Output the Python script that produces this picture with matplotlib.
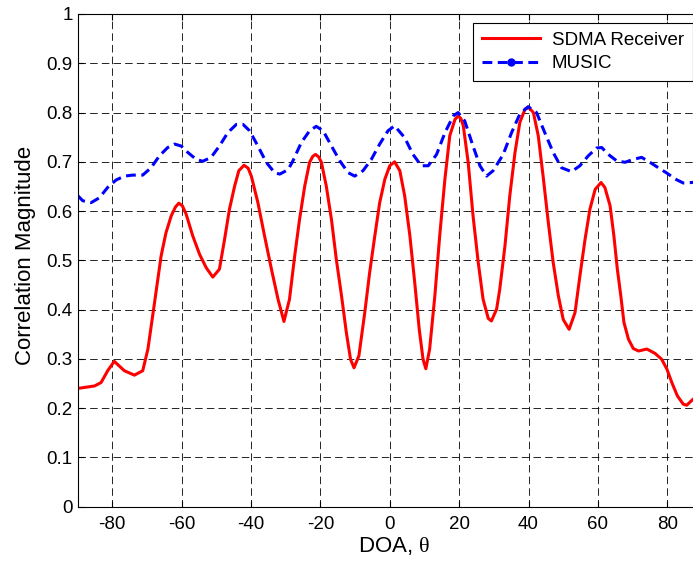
import matplotlib
matplotlib.use("Agg")
import matplotlib.pyplot as plt
from matplotlib.lines import Line2D
from matplotlib.ticker import FuncFormatter, MultipleLocator

# SDMA receiver correlation vs. DOA
sdma_doa = [
    -90, -85.1, -83.2, -81.3, -79.4, -76.5, -73.6, -71.2, -69.7, -67.8,
    -65.9, -64.5, -63.0, -61.8, -60.8, -59.8, -58.7, -56.8, -54.8, -52.9,
    -51.0, -49.1, -47.6, -46.2, -44.7, -43.5, -42.0, -40.8, -39.9, -38.0,
    -36.1, -34.1, -32.2, -30.5, -28.9, -27.4, -26.0, -24.5, -23.1, -22.2,
    -21.4, -20.5, -19.7, -18.3, -16.8, -15.4, -13.9, -12.5, -11.3, -10.3,
    -8.9, -7.2, -5.8, -4.3, -2.9, -1.4, 0.0, 1.4, 2.9, 4.3,
    5.8, 7.2, 8.5, 9.6, 10.4, 11.5, 13.0, 14.4, 15.9, 17.3,
    18.8, 19.7, 20.5, 21.2, 22.6, 24.0, 25.5, 26.9, 28.4, 29.3,
    30.8, 31.7, 33.2, 34.6, 36.1, 37.5, 39.0, 40.1, 41.4, 42.8,
    44.2, 45.7, 47.1, 48.6, 50.0, 51.7, 53.4, 54.8, 56.3, 57.7,
    59.2, 60.9, 62.0, 63.5, 64.6, 65.6, 66.6, 67.5, 68.8, 70.2,
    71.7, 74.1, 76.5, 78.4, 79.9, 81.3, 82.9, 84.6, 85.6, 87.4,
    90,
]
sdma_corr = [
    0.240, 0.245, 0.252, 0.276, 0.295, 0.276, 0.267, 0.276, 0.320, 0.414,
    0.509, 0.556, 0.590, 0.608, 0.616, 0.611, 0.594, 0.550, 0.512, 0.485,
    0.466, 0.482, 0.543, 0.604, 0.651, 0.682, 0.693, 0.687, 0.671, 0.617,
    0.550, 0.482, 0.421, 0.376, 0.421, 0.509, 0.583, 0.651, 0.699, 0.711,
    0.715, 0.710, 0.699, 0.651, 0.583, 0.502, 0.428, 0.353, 0.299, 0.282,
    0.306, 0.394, 0.475, 0.550, 0.617, 0.665, 0.692, 0.700, 0.682, 0.631,
    0.550, 0.455, 0.360, 0.299, 0.280, 0.320, 0.428, 0.550, 0.665, 0.753,
    0.786, 0.793, 0.788, 0.773, 0.699, 0.591, 0.496, 0.421, 0.382, 0.377,
    0.401, 0.441, 0.529, 0.631, 0.719, 0.780, 0.807, 0.810, 0.800, 0.753,
    0.671, 0.577, 0.496, 0.428, 0.380, 0.360, 0.394, 0.468, 0.543, 0.604,
    0.644, 0.658, 0.648, 0.611, 0.550, 0.482, 0.428, 0.374, 0.340, 0.321,
    0.316, 0.320, 0.311, 0.299, 0.279, 0.252, 0.225, 0.208, 0.206, 0.218,
    0.230,
]

# MUSIC spectrum vs. DOA
music_doa = [
    -90, -88.5, -86.1, -83.7, -81.3, -78.9, -76.5, -74.1, -71.2, -68.8,
    -66.4, -64.0, -62.0, -60.1, -58.2, -55.8, -53.9, -51.5, -49.1, -46.7,
    -44.2, -42.3, -40.4, -38.0, -35.6, -33.2, -31.7, -29.3, -27.9, -25.5,
    -23.1, -21.2, -19.2, -16.8, -14.4, -12.0, -10.1, -7.7, -5.3, -2.9,
    -0.5, 1.4, 4.3, 6.7, 9.1, 11.1, 13.5, 15.9, 18.3, 19.7,
    21.6, 24.0, 26.0, 27.9, 29.8, 32.7, 35.1, 37.5, 39.9, 42.3,
    44.7, 47.1, 49.5, 52.4, 54.8, 57.2, 59.6, 61.1, 63.0, 65.4,
    67.8, 70.2, 72.6, 75.0, 77.4, 79.9, 82.3, 84.6, 87.0, 90,
]
music_corr = [
    0.632, 0.621, 0.617, 0.627, 0.648, 0.663, 0.671, 0.673, 0.673, 0.688,
    0.712, 0.729, 0.736, 0.732, 0.719, 0.705, 0.701, 0.709, 0.732, 0.759,
    0.776, 0.776, 0.763, 0.732, 0.699, 0.678, 0.675, 0.684, 0.702, 0.739,
    0.763, 0.772, 0.763, 0.732, 0.702, 0.678, 0.671, 0.682, 0.705, 0.736,
    0.763, 0.773, 0.749, 0.715, 0.692, 0.692, 0.715, 0.759, 0.793, 0.800,
    0.783, 0.732, 0.692, 0.671, 0.682, 0.715, 0.759, 0.797, 0.812, 0.800,
    0.759, 0.719, 0.688, 0.680, 0.692, 0.712, 0.728, 0.729, 0.715, 0.702,
    0.699, 0.705, 0.709, 0.699, 0.688, 0.677, 0.665, 0.657, 0.658, 0.660,
]

labels = ["SDMA Receiver", "MUSIC"]

plt.rcParams.update({
    "font.family": ["Liberation Sans", "DejaVu Sans"],
    "mathtext.fontset": "custom",
    "mathtext.rm": "Liberation Serif",
    "mathtext.it": "Liberation Serif:italic",
})

W, H = 693, 565
fig = plt.figure(figsize=(W / 100, H / 100), dpi=100)
# axes box: left 77.5px, right 702px (cut by the image edge), top 14px, bottom 506.7px
ax = fig.add_axes([77.5 / W, (H - 506.7) / H, (702 - 77.5) / W, (506.7 - 14) / H])

ax.plot(sdma_doa, sdma_corr, color="#ff0000", lw=2.2,
        solid_joinstyle="round")
ax.plot(music_doa, music_corr, color="#0000ff", lw=2.2, ls=(0, (3.2, 1.8)))

ax.set_xlim(-90, 90)
ax.set_ylim(0, 1)
ax.xaxis.set_major_locator(MultipleLocator(20))
ax.yaxis.set_major_locator(MultipleLocator(0.1))
ax.yaxis.set_major_formatter(FuncFormatter(lambda v, p: f"{v:g}"))
ax.xaxis.set_major_formatter(FuncFormatter(lambda v, p: f"{v:g}"))

ax.grid(True, color="black", lw=0.6, ls=(0, (9, 5)))
ax.tick_params(direction="in", length=4, width=0.8, top=True, right=True,
               labelsize=13.5, colors="black")
ax.tick_params(axis="x", pad=7)
ax.tick_params(axis="y", pad=3.5)
for s in ax.spines.values():
    s.set_linewidth(0.8)
    s.set_color("black")

ax.set_xlabel(r"DOA, $\mathrm{\theta}$", fontsize=16)
ax.set_ylabel("Correlation Magnitude", fontsize=16)
ax.xaxis.set_label_coords(0.507, -0.058)
ax.xaxis.label.set_va("top")
ax.yaxis.set_label_coords(-0.066, 0.51)

handles = [
    Line2D([], [], color="#ff0000", lw=2.2),
    Line2D([], [], color="#0000ff", lw=2.2, ls=(0, (3.2, 1.8)),
           marker="o", markersize=5),
]
leg = ax.legend(handles, labels, loc="upper right",
                bbox_to_anchor=((692.5 - 77.5) / 624.5, (506.7 - 23) / 492.7),
                borderaxespad=0, fontsize=13.5, handlelength=3.1,
                handletextpad=0.65, borderpad=0.45, labelspacing=0.35,
                fancybox=False, framealpha=1, edgecolor="black")
leg.get_frame().set_linewidth(0.8)

fig.savefig("out.png", dpi=100, facecolor="white")
